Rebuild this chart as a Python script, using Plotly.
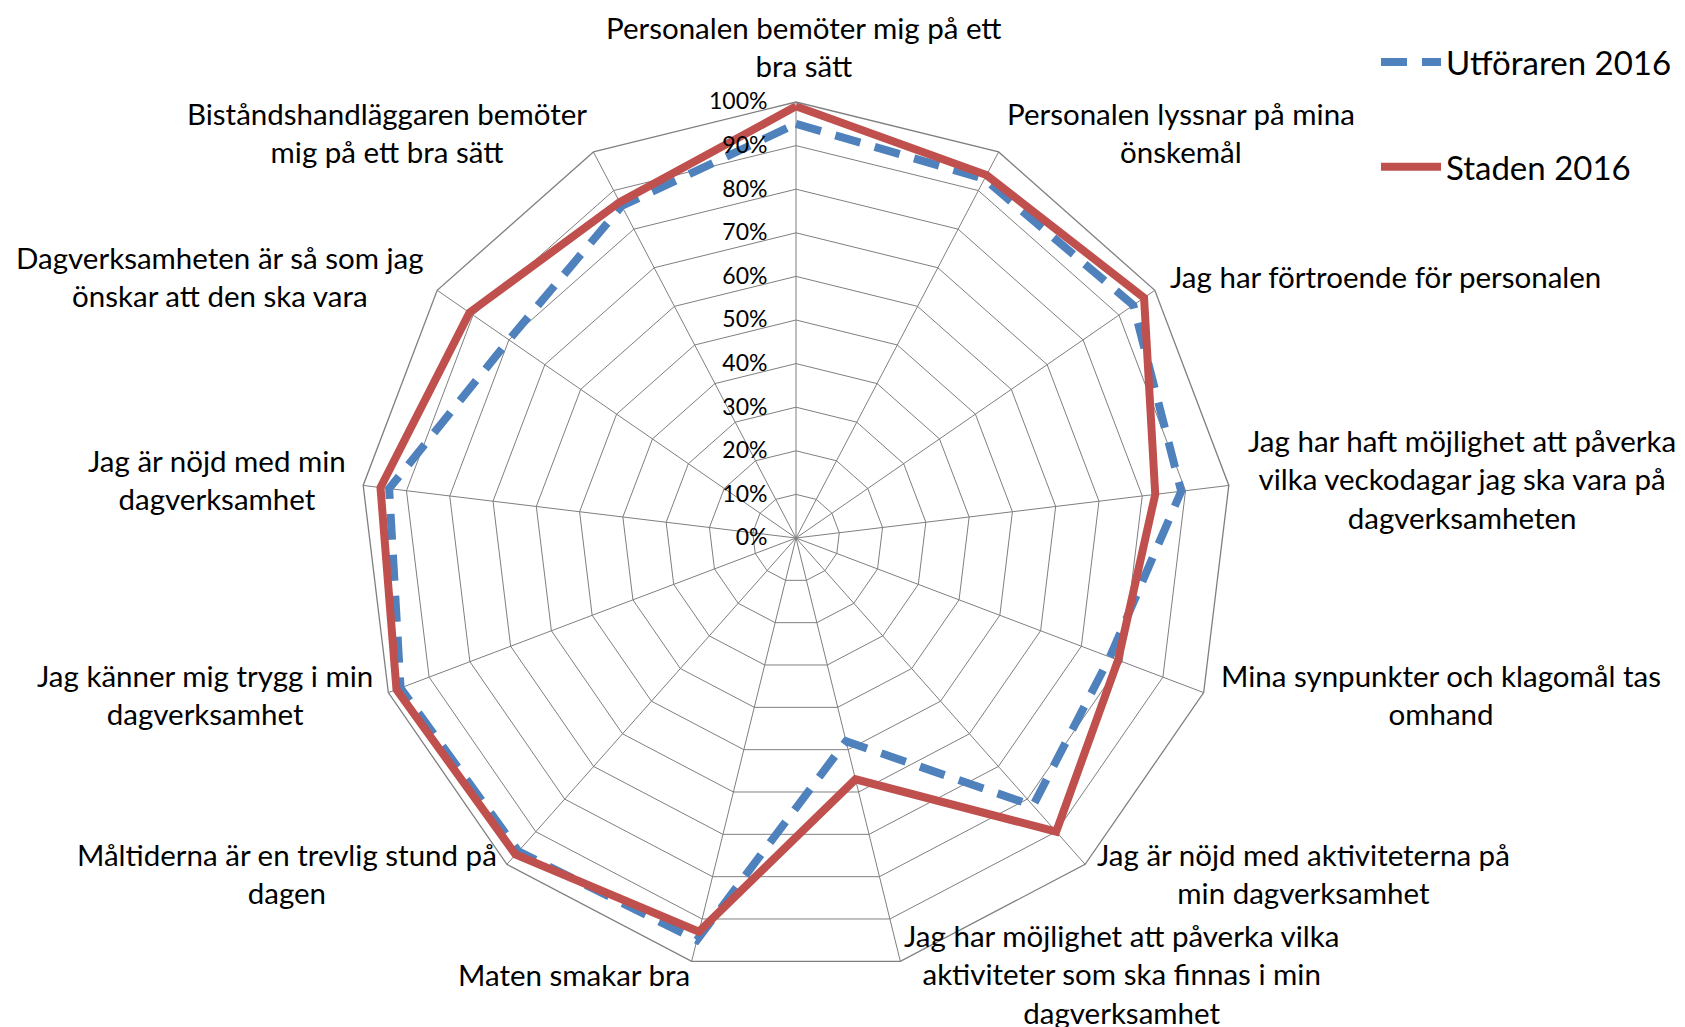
import math

import plotly.graph_objects as go

# --- data ---------------------------------------------------------------
categories = [
    "Personalen bemöter mig på ett<br>bra sätt",
    "Personalen lyssnar på mina<br>önskemål",
    "Jag har förtroende för personalen",
    "Jag har haft möjlighet att påverka<br>vilka veckodagar jag ska vara på<br>dagverksamheten",
    "Mina synpunkter och klagomål tas<br>omhand",
    "Jag är nöjd med aktiviteterna på<br>min dagverksamhet",
    "Jag har möjlighet att påverka vilka<br>aktiviteter som ska finnas i min<br>dagverksamhet",
    "Maten smakar bra",
    "Måltiderna är en trevlig stund på<br>dagen",
    "Jag känner mig trygg i min<br>dagverksamhet",
    "Jag är nöjd med min<br>dagverksamhet",
    "Dagverksamheten är så som jag<br>önskar att den ska vara",
    "Biståndshandläggaren bemöter<br>mig på ett bra sätt",
]
utforaren_2016 = [95, 93, 94, 89, 77, 82, 48, 95, 96, 97, 94, 80, 86]
staden_2016 = [99, 94, 97, 83, 79, 90, 57, 93, 97, 98, 96, 91, 87]
radial_ticks = [0, 10, 20, 30, 40, 50, 60, 70, 80, 90, 100]
radial_ticktext = [f"{v}%" for v in radial_ticks]

# --- layout geometry ----------------------------------------------------
W, H = 1685, 1027
CX, CY, R = 796, 537, 436          # centre and outer radius in px (target)
DX, DY = -8, -7                    # plotly draws polar a few px off its domain centre
FONT = "Lato, 'Open Sans', sans-serif"
GRID = "#7f7f7f"


def closed(vals):
    return list(vals) + [vals[0]]


fig = go.Figure()
fig.add_trace(go.Scatterpolar(
    r=closed(utforaren_2016), theta=closed(categories), mode="lines",
    name="Utföraren 2016", legendgroup="a",
    line=dict(color="#4F81BD", width=8, dash="26px,15px")))
fig.add_trace(go.Scatterpolar(
    r=closed(staden_2016), theta=closed(categories), mode="lines",
    name="Staden 2016", legendgroup="b",
    line=dict(color="#C0504D", width=8)))

# category labels just outside each spoke tip
n = len(categories)
annotations = []
for i, cat in enumerate(categories):
    a = math.radians(360 * i / n)
    s, c = math.sin(a), math.cos(a)
    rr = R + 20
    if abs(s) < 0.05:
        xa, xs = "center", 0
    elif s > 0:
        xa, xs = "left", -11
    else:
        xa, xs = "right", -3
    ys = 11 - 2.5 * c
    if i == 0:
        ys -= 4      # keep the top label inside the page
    annotations.append(dict(
        x=(CX + rr * s) / W, y=(H - CY + rr * c) / H, xref="paper", yref="paper",
        xshift=xs, yshift=ys,
        text=cat, showarrow=False, align="center", xanchor=xa,
        yanchor="bottom" if i == 0 else "middle",
        font=dict(family=FONT, size=29.5, color="black")))

dcx, dcy = CX + DX, CY + DY
fig.update_layout(
    width=W, height=H, paper_bgcolor="white", plot_bgcolor="white",
    margin=dict(l=0, r=0, t=0, b=0),
    font=dict(family=FONT, color="black"),
    annotations=annotations,
    polar=dict(
        domain=dict(x=[(dcx - R) / W, (dcx + R) / W],
                    y=[(H - dcy - R) / H, (H - dcy + R) / H]),
        bgcolor="white",
        gridshape="linear",
        radialaxis=dict(
            range=[0, 100], tickvals=radial_ticks, ticktext=radial_ticktext,
            angle=90, tickangle=90, side="counterclockwise",
            showline=False, ticks="outside", ticklen=20, tickcolor="rgba(0,0,0,0)",
            gridcolor=GRID, gridwidth=1.3,
            tickfont=dict(family=FONT, size=23, color="black")),
        angularaxis=dict(
            type="category", categoryarray=categories,
            direction="clockwise", rotation=90,
            showticklabels=False, ticks="",
            showline=True, linecolor=GRID, linewidth=1.3,
            gridcolor=GRID, gridwidth=1.3),
    ),
    legend=dict(
        x=1368 / W, y=1 - 26 / H, xanchor="left", yanchor="top",
        font=dict(family=FONT, size=33, color="black"),
        tracegroupgap=59, itemwidth=60, bgcolor="rgba(0,0,0,0)"),
)

fig.write_html("out.html")
